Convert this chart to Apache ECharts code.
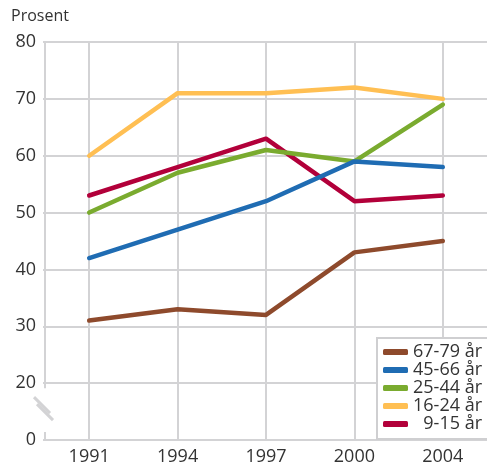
<!DOCTYPE html>
<html>
<head>
<meta charset="utf-8">
<script src="https://cdn.jsdelivr.net/npm/echarts@6/dist/echarts.min.js"></script>
<style>
  html, body { margin: 0; padding: 0; background: #fff; }
  #chart { width: 487px; height: 466px; }
</style>
</head>
<body>
<div id="chart"></div>
<script>
// kategorier og verdier
const years = ['1991', '1994', '1997', '2000', '2004'];
const age67_79 = [31, 33, 32, 43, 45];
const age45_66 = [42, 47, 52, 59, 58];
const age25_44 = [50, 57, 61, 59, 69];
const age16_24 = [60, 71, 71, 72, 70];
const age9_15 = [53, 58, 63, 52, 53];
const seriesNames = ['67-79 år', '45-66 år', '25-44 år', '16-24 år', '9-15 år'];
const seriesColors = ['#8e4a2c', '#1f6cb3', '#7aab2f', '#ffbf53', '#b2003a'];
const seriesData = [age67_79, age45_66, age25_44, age16_24, age9_15];
// aksen starter på 10, som vises som 0 (brudd)
const yMin = 10;
const yMax = 80;

(function () {
    const font = '"Open Sans", "Noto Sans", sans-serif'
    const gridColor = '#d3d3d5'
    const textColor = '#333'
    const chart = echarts.init(document.getElementById('chart'))

    const option = {
        animation: false,
        title: {
            text: 'Prosent',
            left: 6,
            top: 3,
            textStyle: { fontFamily: font, fontSize: 16, fontWeight: 'normal', color: textColor }
        },
        grid: { left: 45, right: 0, top: 42, bottom: 26, containLabel: false },
        legend: {
            orient: 'vertical',
            left: 377,
            top: 338,
            data: seriesNames,
            backgroundColor: '#fff',
            borderColor: '#cfcfd1',
            borderWidth: 2,
            padding: [5, 12, 6, 6],
            itemGap: 0,
            itemWidth: 25,
            itemHeight: 6,
            icon: 'roundRect',
            formatter: name => name.length < 8 ? '\u2007' + name : name,
            textStyle: { fontFamily: font, fontSize: 18, lineHeight: 17, color: textColor }
        },
        xAxis: {
            type: 'category',
            data: years,
            boundaryGap: true,
            axisLine: { lineStyle: { color: gridColor, width: 2 } },
            axisTick: { show: false },
            axisLabel: { fontFamily: font, fontSize: 18, color: textColor, margin: 8 },
            splitLine: { show: true, alignWithLabel: true, lineStyle: { color: gridColor, width: 2 } }
        },
        yAxis: {
            type: 'value',
            min: yMin,
            max: yMax,
            interval: 10,
            axisLine: { show: false },
            axisTick: { show: true, length: 2, lineStyle: { color: gridColor, width: 2 } },
            axisLabel: {
                fontFamily: font, fontSize: 18, color: textColor, margin: 9,
                formatter: v => v === yMin ? '0' : String(v)
            },
            splitLine: {
                show: true,
                lineStyle: { color: gridColor, width: 2 }
            }
        },
        series: seriesNames.map((name, i) => ({
            name: name,
            type: 'line',
            data: seriesData[i],
            showSymbol: false,
            symbol: 'none',
            color: seriesColors[i],
            lineStyle: { width: 4.5, cap: 'round', join: 'round' },
            z: 10 - i
        }))
    }
    chart.setOption(option)

    // y-akse med brudd-markering
    const p80 = chart.convertToPixel({ gridIndex: 0 }, [0, yMax])
    const p20 = chart.convertToPixel({ gridIndex: 0 }, [0, 20])
    const p10 = chart.convertToPixel({ gridIndex: 0 }, [0, yMin])
    const x0 = 45
    const lineStyle = { stroke: gridColor, lineWidth: 2 }
    chart.setOption({
        graphic: [
            { type: 'line', z: 50, shape: { x1: x0, y1: p80[1], x2: x0, y2: p20[1] + 5 }, style: lineStyle },
            { type: 'line', z: 50, shape: { x1: x0, y1: p10[1] - 8, x2: x0, y2: p10[1] }, style: lineStyle },
            { type: 'line', z: 50, shape: { x1: 34, y1: p20[1] + 14, x2: 50, y2: p20[1] + 30 }, style: { stroke: gridColor, lineWidth: 3 } },
            { type: 'line', z: 50, shape: { x1: 37, y1: p20[1] + 21, x2: 53, y2: p20[1] + 37 }, style: { stroke: gridColor, lineWidth: 3 } }
        ]
    })
})();
</script>
</body>
</html>
